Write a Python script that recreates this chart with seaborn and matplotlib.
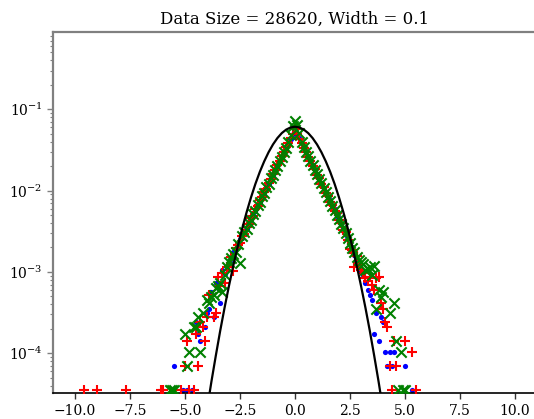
import numpy as np
import pandas as pd
import matplotlib
matplotlib.use("Agg")
import matplotlib.pyplot as plt
import seaborn as sns
from matplotlib.ticker import LogLocator, NullFormatter, FixedLocator

# ---------------- data ----------------
DATA_SIZE = 28620
WIDTH = 0.1
TITLE = "Data Size = 28620, Width = 0.1"

# histogram bin centres of the dense core (-3.0 ... 3.0, width 0.1)
core_bins = list(np.round(np.arange(-3.0, 3.05, 0.1), 1))

# --- blue dots ---
blue_left_x = [-5.5, -5.1, -4.9, -4.7, -4.5, -4.4, -4.3, -4.1, -4.0, -3.9, -3.8, -3.7,
               -3.6, -3.5, -3.4, -3.3, -3.2, -3.1]
blue_left_n = [2, 1, 1, 1, 7, 5, 4, 6, 9, 10, 16, 8, 21, 18, 12, 30, 27, 31]
blue_core_n = [39, 37, 50, 55, 58, 72, 75, 91, 96, 117, 124, 150, 161, 192, 207, 246,
               268, 317, 345, 408, 447, 523, 576, 671, 744, 866, 958, 1112, 1236, 1431,
               1590,
               1405, 1262, 1088, 981, 846, 760, 655, 592, 508, 461, 393, 358, 304, 279,
               236, 217, 183, 168, 141, 131, 109, 99, 82, 76, 61, 58, 46, 40, 33, 29]
blue_right_x = [3.1, 3.2, 3.3, 3.4, 3.5, 3.6, 3.7, 3.8, 3.9, 4.0, 4.1, 4.2, 4.3, 4.4,
                4.5, 5.0, 5.3]
blue_right_n = [26, 21, 17, 15, 13, 5, 9, 4, 8, 7, 3, 2, 3, 2, 3, 2, 1]

# --- red plus ---
red_left_x = [-9.6, -9.0, -7.7, -6.1, -6.0, -5.2, -5.0, -4.9, -4.8, -4.6, -4.5, -4.4,
              -4.3, -4.2, -4.1, -4.0, -3.9, -3.7, -3.6, -3.5, -3.4, -3.3, -3.2, -3.1]
red_left_n = [1, 1, 1, 1, 1, 1, 2, 4, 1, 1, 5, 2, 7, 6, 4, 8, 15, 8, 9, 25, 19, 28, 21, 33]
red_core_n = [34, 44, 29, 56, 62, 65, 80, 84, 102, 110, 132, 141, 170, 183, 217, 236,
              279, 304, 358, 393, 461, 508, 592, 655, 762, 846, 981, 1088, 1262, 1405,
              1620,
              1431, 1236, 1112, 958, 866, 744, 671, 576, 523, 447, 408, 345, 317, 268,
              246, 207, 192, 161, 150, 124, 115, 95, 88, 71, 55, 54, 33, 45, 35, 30]
red_right_x = [3.1, 3.2, 3.3, 3.4, 3.5, 3.6, 3.7, 3.8, 3.9, 4.0, 4.1, 4.2, 4.3, 4.4,
               4.5, 4.6, 5.0, 5.3, 5.5]
red_right_n = [28, 24, 22, 25, 20, 17, 24, 25, 12, 10, 7, 6, 2, 1, 4, 2, 4, 3, 1]

# --- green crosses ---
green_left_x = [-5.7, -5.6, -5.5, -5.0, -4.9, -4.8, -4.6, -4.5, -4.4, -4.3, -4.2, -4.0,
                -3.9, -3.8, -3.7, -3.6, -3.5, -3.4, -3.3, -3.2, -3.1]
green_left_n = [1, 1, 1, 5, 2, 3, 6, 6, 8, 3, 9, 13, 12, 14, 15, 18, 19, 21, 16, 26, 33]
green_core_n = [38, 43, 47, 51, 63, 37, 79, 89, 97, 116, 126, 148, 163, 190, 209, 244,
                270, 314, 348, 404, 450, 520, 580, 668, 748, 860, 965, 1150, 1400, 1800,
                2050,
                1850, 1450, 1150, 975, 850, 757, 660, 588, 512, 457, 397, 355, 307, 276,
                238, 214, 185, 167, 143, 130, 112, 98, 86, 75, 65, 57, 50, 44, 40, 38]
green_right_x = [3.1, 3.2, 3.3, 3.4, 3.5, 3.6, 3.7, 3.8, 3.9, 4.0, 4.3, 4.5, 4.6, 4.7,
                 4.8, 4.9, 5.0]
green_right_n = [36, 30, 31, 33, 26, 34, 10, 17, 14, 16, 9, 12, 4, 1, 3, 1, 1]

# --- black reference curve ---
curve_x = [-4.0, -3.8, -3.6, -3.4, -3.2, -3.0, -2.8, -2.6, -2.4, -2.2, -2.0, -1.8, -1.6,
           -1.4, -1.2, -1.0, -0.8, -0.6, -0.4, -0.2, 0.0, 0.2, 0.4, 0.6, 0.8, 1.0, 1.2,
           1.4, 1.6, 1.8, 2.0, 2.2, 2.4, 2.6, 2.8, 3.0, 3.2, 3.4, 3.6, 3.8, 4.0]
curve_y = [2.04e-5, 4.47e-5, 9.33e-5, 1.89e-4, 3.65e-4, 6.77e-4, 1.21e-3, 2.07e-3,
           3.42e-3, 5.42e-3, 8.25e-3, 1.21e-2, 1.70e-2, 2.29e-2, 2.97e-2, 3.70e-2,
           4.43e-2, 5.10e-2, 5.63e-2, 5.98e-2, 6.10e-2, 5.98e-2, 5.63e-2, 5.10e-2,
           4.43e-2, 3.70e-2, 2.97e-2, 2.29e-2, 1.70e-2, 1.21e-2, 8.25e-3, 5.42e-3,
           3.42e-3, 2.07e-3, 1.21e-3, 6.77e-4, 3.65e-4, 1.89e-4, 9.33e-5, 4.47e-5, 2.04e-5]


def series(left_x, left_n, core_n, right_x, right_n):
    xs = list(left_x) + core_bins + list(right_x)
    ns = list(left_n) + list(core_n) + list(right_n)
    df = pd.DataFrame({"x": xs, "count": ns})
    df = df[df["count"] > 0]
    df["frac"] = df["count"] / DATA_SIZE
    return df


blue = series(blue_left_x, blue_left_n, blue_core_n, blue_right_x, blue_right_n)
red = series(red_left_x, red_left_n, red_core_n, red_right_x, red_right_n)
green = series(green_left_x, green_left_n, green_core_n, green_right_x, green_right_n)
curve = pd.DataFrame({"x": curve_x, "y": curve_y})

# ---------------- drawing ----------------
sns.set_style("ticks")
plt.rcParams["font.family"] = ["DejaVu Serif"]
plt.rcParams["mathtext.fontset"] = "dejavuserif"
plt.rcParams["text.color"] = "black"
plt.rcParams["axes.labelcolor"] = "black"
plt.rcParams["xtick.color"] = "black"
plt.rcParams["ytick.color"] = "black"

fig = plt.figure(figsize=(5.34, 4.19), dpi=100)
ax = fig.add_axes([53 / 534, 1 - 393.3 / 419, 484 / 534, (393.3 - 32.3) / 419])

sns.scatterplot(data=blue, x="x", y="frac", ax=ax, color="blue", marker="o",
                s=14, linewidth=0, zorder=2)
sns.scatterplot(data=red, x="x", y="frac", ax=ax, color="red", marker="+",
                s=55, linewidth=1.5, zorder=3)
sns.scatterplot(data=green, x="x", y="frac", ax=ax, color="green", marker="x",
                s=55, linewidth=1.5, zorder=4)
sns.lineplot(data=curve, x="x", y="y", ax=ax, color="black", linewidth=1.6,
             estimator=None, sort=False, zorder=5)

ax.set_yscale("log")
ax.set_xlim(-11, 11)
ax.set_ylim(3.22e-5, 0.885)
ax.xaxis.set_major_locator(FixedLocator([-10, -7.5, -5, -2.5, 0, 2.5, 5, 7.5, 10]))
ax.set_xticklabels(["\u221210.0", "\u22127.5", "\u22125.0", "\u22122.5", "0.0",
                    "2.5", "5.0", "7.5", "10.0"])
ax.yaxis.set_major_locator(LogLocator(base=10, numticks=10))
ax.yaxis.set_minor_locator(LogLocator(base=10, subs=np.arange(2, 10), numticks=20))
ax.yaxis.set_minor_formatter(NullFormatter())

ax.set_xlabel("")
ax.set_ylabel("")
ax.set_title(TITLE, fontsize=12, color="black")

ax.spines["left"].set_color("#808080")
ax.spines["left"].set_linewidth(1.6)
ax.spines["top"].set_color("#808080")
ax.spines["top"].set_linewidth(1.6)
ax.spines["bottom"].set_color("black")
ax.spines["bottom"].set_linewidth(1.2)
ax.spines["right"].set_visible(False)

ax.tick_params(axis="y", which="both", color="#808080", labelcolor="black",
               labelsize=10)
ax.tick_params(axis="y", which="major", length=4, width=1.0)
ax.tick_params(axis="y", which="minor", length=2, width=0.8)
ax.tick_params(axis="x", which="major", color="#333333", labelcolor="black",
               labelsize=10, length=4, width=1.0)

fig.savefig("out.png", dpi=100)
